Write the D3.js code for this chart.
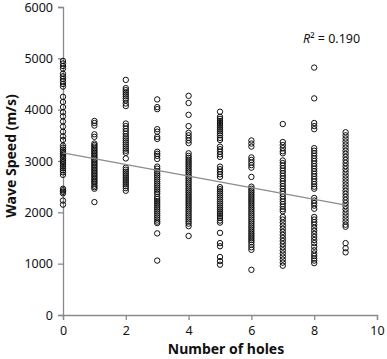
<!DOCTYPE html>
<html><head><meta charset="utf-8">
<script src="https://cdn.jsdelivr.net/npm/d3@7"></script>
<style>body{margin:0;background:#fff}svg{display:block}</style>
</head><body>
<script>
const holes = [0,1,2,3,4,5,6,7,8,9];
const col0 = [4950,4900,4850,4800,4700,4650,4600,4550,4500,4450,4250,4150,4050,3950,3870,3770,3670,3570,3480,3410,3300,3260,3220,3180,3150,3120,3090,3050,3010,2980,2940,2900,2860,2820,2780,2730,2460,2430,2400,2370,2230,2150];
const col1 = [3780,3740,3690,3520,3470,3340,3310,3280,3250,3220,3190,3160,3130,3100,3070,3040,3010,2980,2950,2920,2890,2860,2830,2800,2770,2740,2710,2680,2650,2620,2590,2560,2520,2490,2460,2200];
const col2 = [4580,4420,4380,4340,4300,4260,4220,4180,4120,4070,3730,3680,3630,3580,3530,3480,3440,3400,3360,3320,3280,3240,3200,3160,3050,2870,2830,2790,2750,2710,2670,2630,2590,2550,2510,2470,2420];
const col3 = [4200,4050,4010,3620,3570,3470,3430,3180,3140,3100,3040,2890,2850,2800,2760,2720,2680,2640,2600,2560,2520,2480,2440,2400,2360,2300,2260,2220,2180,2140,2100,2060,2020,1980,1940,1900,1860,1820,1790,1590,1060];
const col4 = [4270,4130,3900,3680,3550,3500,3450,3400,3350,3150,3100,3060,3020,2980,2940,2900,2860,2820,2780,2740,2700,2660,2620,2580,2540,2500,2460,2420,2380,2340,2300,2260,2220,2180,2140,2100,2060,2020,1980,1940,1900,1860,1820,1780,1730,1540];
const col5 = [3960,3860,3820,3780,3740,3700,3660,3620,3580,3540,3500,3450,3410,3280,3230,3180,3130,3080,2890,2840,2790,2740,2690,2490,2450,2410,2370,2330,2290,2250,2210,2170,2130,2090,2050,2010,1970,1930,1890,1840,1800,1600,1400,1340,1130,1050,980];
const col6 = [3400,3340,3280,3070,3020,2970,2920,2870,2690,2500,2460,2420,2380,2340,2300,2260,2220,2180,2140,2100,2060,2020,1980,1940,1900,1860,1820,1780,1740,1700,1660,1620,1580,1540,1500,1460,1420,1370,1320,1270,880];
const col7 = [3720,3370,3310,3250,3190,3150,3010,2960,2910,2860,2810,2760,2710,2660,2610,2560,2510,2460,2410,2360,2310,2260,2210,2160,2110,2060,2020,1910,1860,1800,1740,1680,1620,1560,1500,1440,1380,1320,1260,1200,1140,1080,1020,960];
const col8 = [4820,4220,3740,3680,3620,3250,3200,3150,3100,3050,3000,2950,2900,2850,2800,2750,2700,2650,2600,2550,2500,2460,2280,2230,2180,2130,2070,1910,1860,1810,1760,1700,1640,1580,1520,1460,1400,1330,1260,1200,1150,1100,1060,1010];
const col9 = [3560,3500,3440,3380,3320,3260,3200,3140,3080,3020,2960,2900,2840,2780,2720,2660,2600,2540,2480,2420,2360,2300,2240,2180,2120,2060,2000,1940,1880,1820,1760,1720,1400,1300,1220];
const columns = [col0,col1,col2,col3,col4,col5,col6,col7,col8,col9];
const trendX = [0, 9];
const trendY = [3160, 2140];
const xTicks = [0,2,4,6,8,10];
const yTicks = [0,1000,2000,3000,4000,5000,6000];
const r2Label = "0.190";

const W = 387, H = 359;
const m = {left:63, right:10, top:7, bottom:44};
const svg = d3.select("body").append("svg").attr("width",W).attr("height",H);
const x = d3.scaleLinear().domain([0,10]).range([m.left, W-m.right]);
const y = d3.scaleLinear().domain([0,6000]).range([H-m.bottom, m.top]);
const font = "'Noto Sans', 'Noto Sans CJK KR', sans-serif";
const axisCol = "#8a8a8a";

const xa = svg.append("g").attr("transform",`translate(0,${H-m.bottom})`)
  .call(d3.axisBottom(x).tickValues(xTicks).tickSize(5).tickPadding(6).tickFormat(d3.format("d")));
const ya = svg.append("g").attr("transform",`translate(${m.left},0)`)
  .call(d3.axisLeft(y).tickValues(yTicks).tickSize(5).tickPadding(5).tickFormat(d3.format("d")));
[xa,ya].forEach(g=>{
  g.select(".domain").attr("stroke",axisCol).attr("stroke-width",1.3);
  g.selectAll(".tick line").attr("stroke",axisCol).attr("stroke-width",1.3);
  g.selectAll(".tick text").attr("fill","#111").style("font-family",font).style("font-size","12.5px");
});

const pts = [];
columns.forEach((c,i)=>c.forEach(v=>pts.push({h:holes[i], v})));
svg.append("g").selectAll("circle").data(pts).join("circle")
  .attr("cx",d=>x(d.h)).attr("cy",d=>y(d.v)).attr("r",2.7)
  .attr("fill","none").attr("stroke","#111").attr("stroke-width",1);

svg.append("line")
  .attr("x1",x(trendX[0])).attr("y1",y(trendY[0]))
  .attr("x2",x(trendX[1])).attr("y2",y(trendY[1]))
  .attr("stroke","#8c8c8c").attr("stroke-width",1.2);

const t = svg.append("text").attr("x",303).attr("y",43)
  .style("font-family",font).style("font-size","12.5px").attr("fill","#111");
t.append("tspan").style("font-style","italic").text("R");
t.append("tspan").text("\u00B2 = " + r2Label);

svg.append("text").attr("x",(m.left + W - m.right)/2 + 6).attr("y",354)
  .attr("text-anchor","middle").style("font-family",font).style("font-size","14px")
  .style("font-weight","bold").attr("fill","#111").text("Number of holes");
svg.append("text").attr("transform",`translate(16,156) rotate(-90)`)
  .attr("text-anchor","middle").style("font-family",font).style("font-size","14px")
  .style("font-weight","bold").attr("fill","#111").text("Wave Speed (m/s)");
</script>
</body></html>
